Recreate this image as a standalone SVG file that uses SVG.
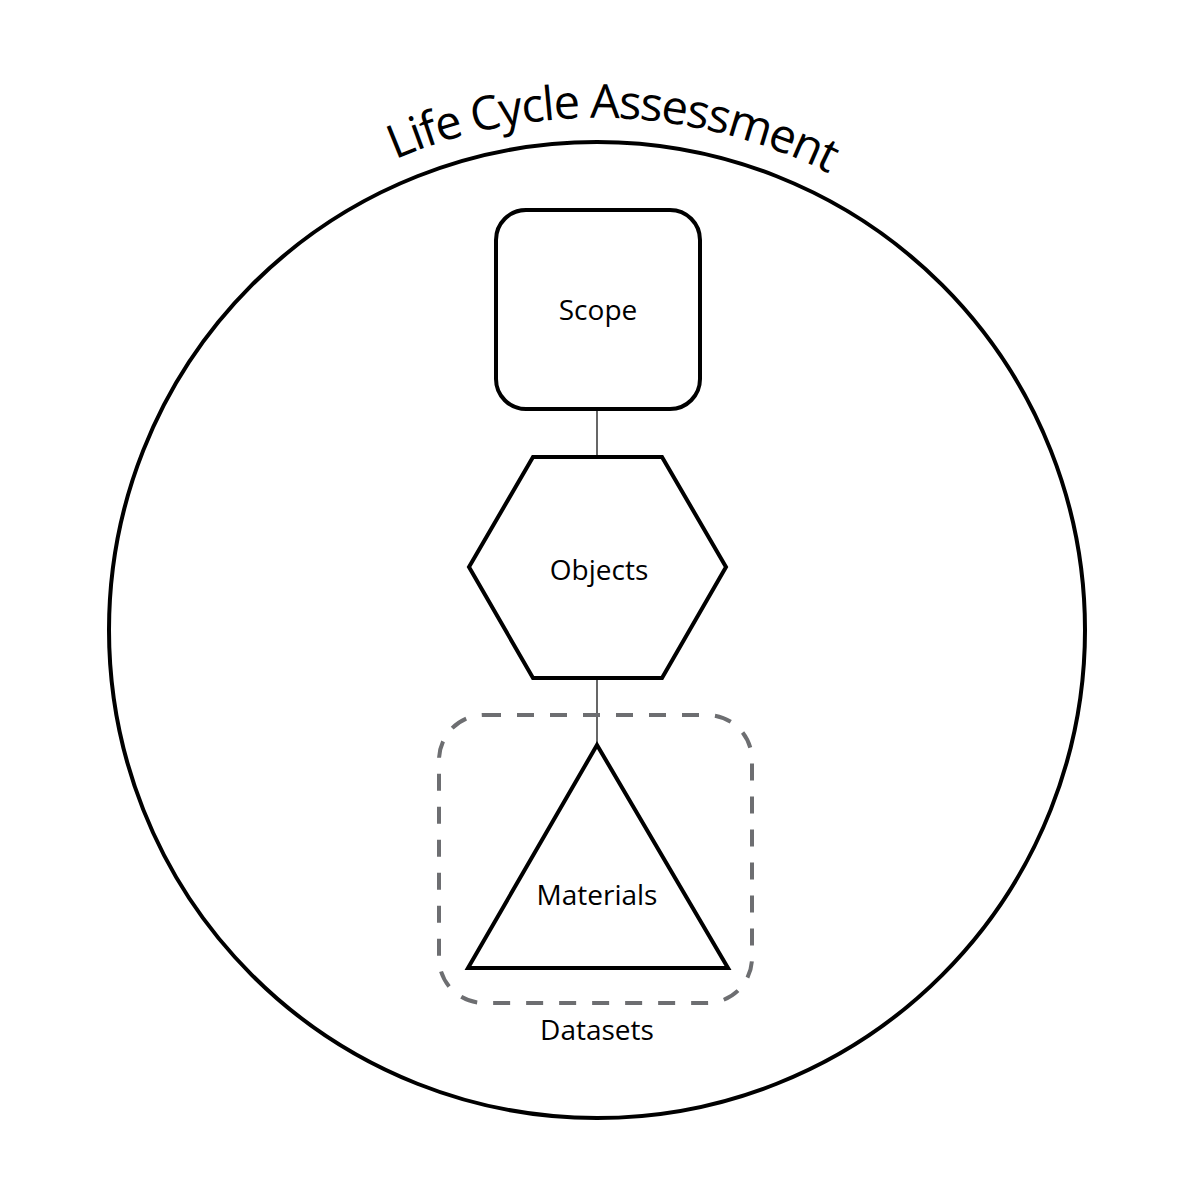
<svg xmlns="http://www.w3.org/2000/svg" width="1195" height="1195" viewBox="0 0 1195 1195">
<style>
.shape{fill:#fff;stroke:#000;stroke-width:4;stroke-linejoin:miter}
.lbl{font-family:"Open Sans","Noto Sans",sans-serif;font-size:28px;fill:#000;text-anchor:middle}
.conn{stroke:#000;stroke-width:1.2;fill:none}
</style>
<defs>
<path id="titleArc" d="M 85 630 A 512 512 0 0 1 1109 630"/>
</defs>
<rect width="1195" height="1195" fill="#fff"/>
<g id="lca">
<circle cx="597" cy="630" r="488" fill="none" stroke="#000" stroke-width="4"/>
<text font-family="'Open Sans','Noto Sans',sans-serif" font-size="47" letter-spacing="-1.5" fill="#000" text-anchor="middle"><textPath href="#titleArc" startOffset="820">Life Cycle Assessment</textPath></text>
</g>
<g id="connectors">
<line class="conn" x1="597" y1="409" x2="597" y2="457"/>
<line class="conn" x1="597" y1="678" x2="597" y2="745"/>
</g>
<g id="datasets">
<rect x="439" y="715" width="313" height="288" rx="45" ry="45" fill="none" stroke="#6d6e71" stroke-width="4" stroke-dasharray="17 16"/>
<text class="lbl" x="597" y="1040">Datasets</text>
</g>
<g id="scope">
<rect class="shape" x="496" y="210" width="204" height="199" rx="30" ry="30"/>
<text class="lbl" x="598" y="320">Scope</text>
</g>
<g id="objects">
<polygon class="shape" points="533,457 662,457 726,567 662,678 533,678 469,567"/>
<text class="lbl" x="599" y="580">Objects</text>
</g>
<g id="materials">
<polygon class="shape" points="597,745 728,968 468,968"/>
<text class="lbl" x="597" y="905">Materials</text>
</g>
</svg>
